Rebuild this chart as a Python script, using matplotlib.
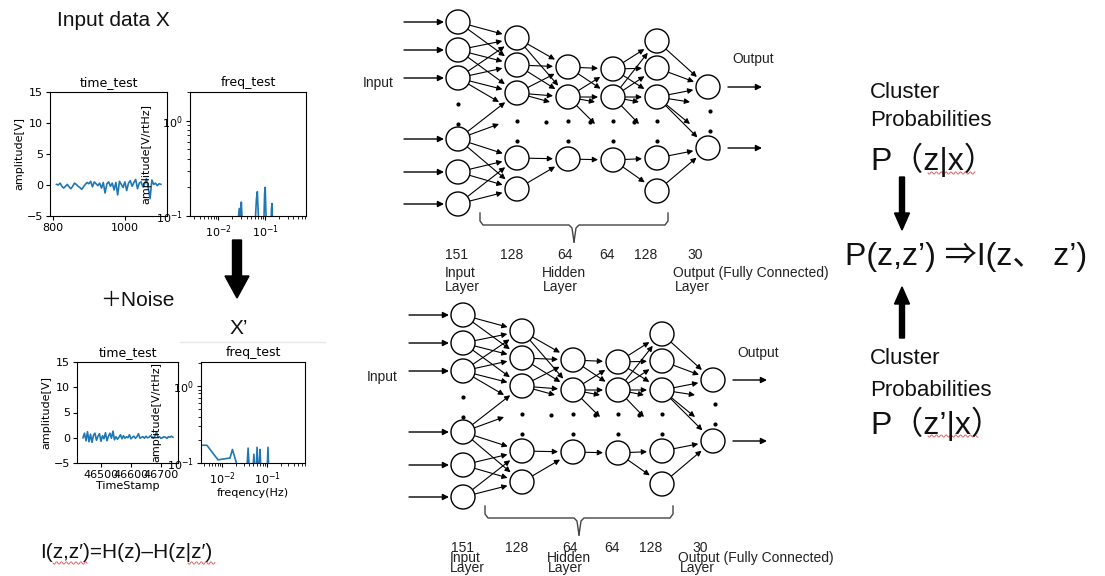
import matplotlib
matplotlib.use('Agg')
import matplotlib.pyplot as plt
import numpy as np
from matplotlib.patches import Circle

SANS = ['Liberation Sans', 'Noto Sans CJK JP', 'DejaVu Sans']

# ---- signal data ----
t_top_start, t_top_step = 810, 5
amp_top = [0.1, 0.0, 0.3, -0.2, -0.5, -0.2, 0.1, -0.3, -0.6, -0.2, 0.3, 0.1, -0.2, -0.4, -0.7, -0.3, 0.1, 0.4, 0.2,
           0.6, -0.3, 0.5, 0.2, -0.1, 0.3, -0.5, 0.4, -1.3, 0.2, 0.5, -0.2, 0.3, -0.8, 0.4, -1.6, 0.6, 0.1, -0.4, 0.5,
           -0.9, 0.3, 0.7, -0.2, 0.4, 0.9, -0.6, 0.3, 0.5, -0.3, 0.2, 1.0, -0.5, -2.2, 0.8, 0.1, 0.3, -0.1, 0.2, 0.1]
t_bot_start, t_bot_step = 46440, 5
amp_bot = [0.0, 0.9, -0.6, 1.2, -0.8, 0.7, -0.9, 0.5, 0.9, -0.5, 0.3, 0.8, -0.7, 0.4, -0.2, 1.0, -0.6, 0.3, 0.9, -0.1,
           1.3, -0.4, 0.2, -0.3, 0.1, 0.6, -0.2, 0.4, -0.1, 0.2, 0.0, 0.6, -0.2, 0.1, 0.3, -0.1, 0.2, 0.8, -0.1, 0.1,
           0.2, -0.1, 0.3, 0.0, 0.1, 0.4, 0.2, -0.1, 0.3, 1.2, 0.1, 0.2, -0.1, 0.0, 0.2, 0.1, -0.1, 0.2, 0.1, 0.3, 0.1]
f_top = [0.026, 0.028, 0.030, 0.031, 0.033, 0.060, 0.065, 0.068, 0.071, 0.075, 0.092, 0.097, 0.100, 0.103, 0.108,
         0.130, 0.136, 0.140, 0.144]
psd_top = [0.08, 0.12, 0.09, 0.14, 0.07, 0.07, 0.15, 0.18, 0.11, 0.06, 0.06, 0.17, 0.20, 0.12, 0.06,
           0.06, 0.12, 0.135, 0.07]
f_bot = [0.0035, 0.0046, 0.0081, 0.015, 0.017, 0.022, 0.035, 0.038, 0.041, 0.048, 0.051, 0.054, 0.058, 0.060,
         0.064, 0.068, 0.070, 0.074, 0.100, 0.105, 0.110]
psd_bot = [0.17, 0.17, 0.11, 0.116, 0.15, 0.09, 0.07, 0.156, 0.07, 0.07, 0.13, 0.08, 0.09, 0.16,
           0.08, 0.10, 0.15, 0.07, 0.07, 0.16, 0.07]

# ---- network layout (top copy, pixels) ----
layer_sizes = ['151', '128', '64', '64', '128', '30']
size_x = [457, 512, 565, 607, 646, 695]
col_x = [458, 517, 568, 613, 657, 708]
col_y = [[22, 50, 78, 139, 172, 204], [38, 65, 93, 158, 189], [67, 97, 159],
         [69, 97, 160], [41, 68, 97, 158, 191], [87, 148]]
gap_y = [102, 124]

W, H = 1105, 576
fig = plt.figure(figsize=(W / 100, H / 100), dpi=100)
ax = fig.add_axes([0, 0, 1, 1])
ax.set_xlim(0, W)
ax.set_ylim(H, 0)
ax.axis('off')


def arrow(x0, y0, x1, y1, lw=0.8, ms=8):
    ax.annotate('', xy=(x1, y1), xytext=(x0, y0),
                arrowprops=dict(arrowstyle='-|>', color='k', lw=lw, mutation_scale=ms,
                                shrinkA=0, shrinkB=0))


def draw_net(dx, dy, lab_dy1, lab_dy2, inp_xy, out_xy):
    r = 12
    # connections
    for ci in range(len(col_x) - 1):
        x0 = col_x[ci] + dx
        x1 = col_x[ci + 1] + dx
        for ys in col_y[ci]:
            ys = ys + dy
            for yt in col_y[ci + 1]:
                yt = yt + dy
                if abs(yt - ys) > 60:
                    continue
                a = np.arctan2(yt - ys, x1 - x0)
                sx, sy = x0 + r * np.cos(a), ys + r * np.sin(a)
                ex, ey = x1 - (r + 3) * np.cos(a), yt - (r + 3) * np.sin(a)
                arrow(sx, sy, ex, ey)
            for g in gap_y:
                g = g + dy
                if abs(g - ys) > 30:
                    continue
                ex = x1 - r - 6
                a = np.arctan2(g - ys, ex - x0)
                arrow(x0 + r * np.cos(a), ys + r * np.sin(a), ex, g)
    # nodes
    for ci, xs in enumerate(col_x):
        for y in col_y[ci]:
            ax.add_patch(Circle((xs + dx, y + dy), r, facecolor='white', edgecolor='k', lw=1.0, zorder=3))
    # dots
    for xs in col_x[1:5]:
        ax.plot([xs + dx, xs + dx], [121 + dy, 141 + dy], 'o', color='k', ms=2, zorder=4)
    ax.plot([458 + dx, 458 + dx], [104 + dy, 124 + dy], 'o', color='k', ms=2, zorder=4)
    ax.plot([710 + dx, 710 + dx], [111 + dy, 131 + dy], 'o', color='k', ms=2, zorder=4)
    for xs in [546, 590, 634]:
        ax.plot(xs + dx, 122 + dy, 'o', color='k', ms=2, zorder=4)
    # input / output arrows
    for y in col_y[0]:
        arrow(404 + dx, y + dy, 444 + dx, y + dy, lw=1.0, ms=9)
    for y in col_y[5]:
        arrow(728 + dx, y + dy, 762 + dx, y + dy, lw=1.0, ms=9)
    ax.text(inp_xy[0], inp_xy[1], 'Input', fontsize=10, family=SANS, va='center', color='#222')
    ax.text(out_xy[0], out_xy[1], 'Output', fontsize=10, family=SANS, va='center', color='#222')
    # brace
    bl = [(480, 213), (480, 221), (483, 225), (569, 225), (572, 228), (574, 242)]
    br = [(668, 213), (668, 221), (665, 225), (579, 225), (576, 228), (574, 242)]
    for pts in (bl, br):
        ax.plot([p[0] + dx for p in pts], [p[1] + dy for p in pts], color='#444', lw=1.0)
    # labels
    ny = 255 + dy
    for s, xs in zip(layer_sizes, size_x):
        ax.text(xs + dx, ny, s, fontsize=10, family=SANS, ha='center', va='center', color='#222')
    for word, xs in [('Input', 445), ('Hidden', 542), ('Output (Fully Connected)', 673)]:
        ax.text(xs + dx, ny + lab_dy1, word, fontsize=10, family=SANS, va='center', color='#222')
    for xs in [445, 543, 675]:
        ax.text(xs + dx, ny + lab_dy2, 'Layer', fontsize=10, family=SANS, va='center', color='#222')


draw_net(0, 0, 18, 32, (363, 83), (732, 59))
draw_net(5, 293, 10, 20, (367, 377), (737, 353))


def wavy(x0, x1, y):
    xs = np.linspace(x0, x1, 60)
    ax.plot(xs, y + 1.2 * np.sin((xs - x0) * 1.3), color='#e05050', lw=0.6)


# left texts
ax.text(57, 20, 'Input data X', fontsize=15, family=SANS, va='center', color='#111')
ax.text(100, 300, '＋Noise', fontsize=15, family=SANS, va='center', color='#111')
ax.text(230, 328, 'X’', fontsize=15, family=SANS, va='center', color='#111')
ax.plot([180, 325], [342, 342], color='#e8e8e8', lw=1)
ax.text(40, 552, 'I(z,z′)=H(z)–H(z|z′)', fontsize=15, family=SANS, va='center', color='#111')
wavy(53, 87, 563)
wavy(188, 215, 563)
ax.arrow(237, 240, 0, 58, width=9, head_width=24, head_length=22, length_includes_head=True,
         color='k')

# right texts
for y, s in [(93, 'Cluster'), (121, 'Probabilities'), (358, 'Cluster'), (390, 'Probabilities')]:
    ax.text(870, y, s, fontsize=16, family=SANS, va='center', color='#111')
ax.text(870, 160, 'P（z|x）', fontsize=23, family=SANS, va='center', color='#111')
ax.text(870, 424, 'P（z’|x）', fontsize=23, family=SANS, va='center', color='#111')
ax.text(845, 257, 'P(z,z’) ⇒I(z、 z’)', fontsize=23, family=SANS, va='center', color='#111')
wavy(928, 975, 173)
wavy(928, 978, 436)
ax.arrow(902, 177, 0, 53, width=5, head_width=15, head_length=17, length_includes_head=True, color='k')
ax.arrow(902, 338, 0, -51, width=5, head_width=15, head_length=17, length_includes_head=True, color='k')


# ---- small plots ----
def box(l, t, r, b):
    return [l / W, 1 - b / H, (r - l) / W, (b - t) / H]


def style(a, title):
    a.set_title(title, fontsize=9, pad=4)
    a.tick_params(labelsize=8, length=3, pad=2)
    for sp in a.spines.values():
        sp.set_linewidth(0.8)


a1 = fig.add_axes(box(50, 92, 167, 216))
a1.plot(np.arange(len(amp_top)) * t_top_step + t_top_start, amp_top, color='#1f77b4', lw=1.2)
a1.set_xlim(792, 1117)
a1.set_ylim(-5, 15)
a1.set_xticks([800, 1000])
a1.set_yticks([-5, 0, 5, 10, 15])
a1.set_ylabel('amplitude[V]', fontsize=8, labelpad=2)
style(a1, 'time_test')

a2 = fig.add_axes(box(190, 92, 306, 216))
a2.plot(f_top, psd_top, color='#1f77b4', lw=1.2)
a2.set_xscale('log')
a2.set_yscale('log')
a2.set_xlim(0.0025, 0.74)
a2.set_ylim(0.1, 2.0)
a2.set_ylabel('amplitude[V/rtHz]', fontsize=8)
a2.yaxis.set_label_coords(-0.33, 0.5)
style(a2, 'freq_test')

a3 = fig.add_axes(box(77, 362, 178, 463))
a3.plot(np.arange(len(amp_bot)) * t_bot_step + t_bot_start, amp_bot, color='#1f77b4', lw=1.2)
a3.set_xlim(46420, 46757)
a3.set_ylim(-5, 15)
a3.set_xticks([46500, 46600, 46700])
a3.set_yticks([-5, 0, 5, 10, 15])
a3.set_ylabel('amplitude[V]', fontsize=8, labelpad=2)
a3.set_xlabel('TimeStamp', fontsize=8, labelpad=1)
style(a3, 'time_test')

a4 = fig.add_axes(box(201, 362, 305, 463))
a4.plot(f_bot, psd_bot, color='#1f77b4', lw=1.2)
a4.set_xscale('log')
a4.set_yscale('log')
a4.set_xlim(0.0034, 0.70)
a4.set_ylim(0.1, 2.05)
a4.set_ylabel('amplitude[V/rtHz]', fontsize=8)
a4.yaxis.set_label_coords(-0.38, 0.5)
a4.set_xlabel('freqency(Hz)', fontsize=8, labelpad=1)
style(a4, 'freq_test')

fig.savefig('out.png', dpi=100)
